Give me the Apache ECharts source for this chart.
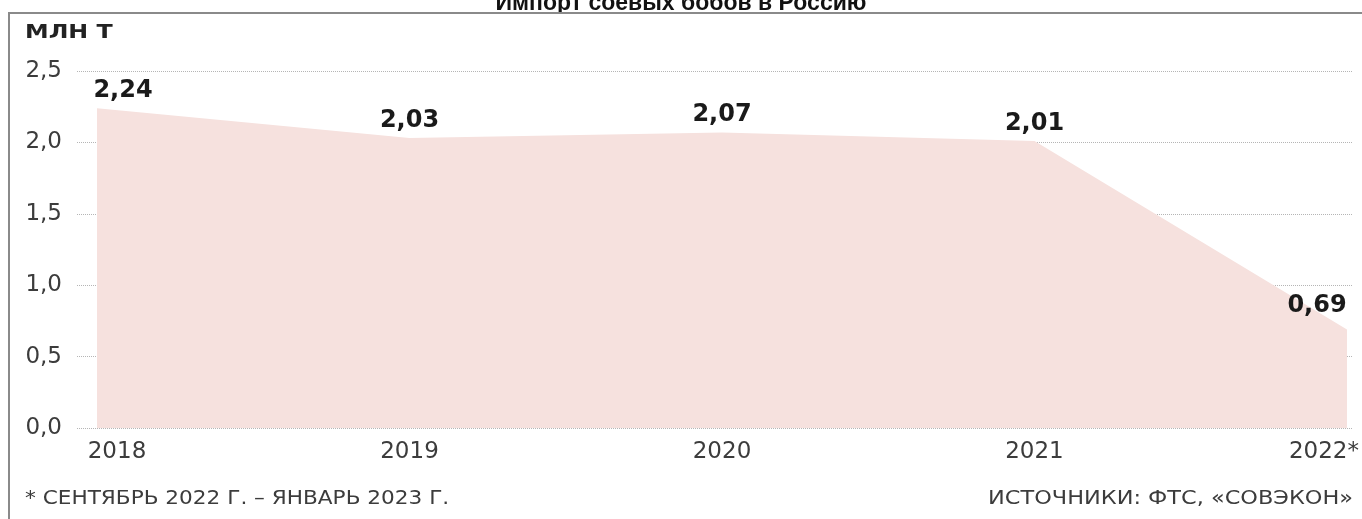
<!DOCTYPE html>
<html>
<head>
<meta charset="utf-8">
<title>Импорт соевых бобов в Россию</title>
<script src="https://cdn.jsdelivr.net/npm/echarts@6/dist/echarts.min.js"></script>
<style>
  html, body { margin: 0; padding: 0; background: #fff; }
  #chart { width: 1362px; height: 519px; }
</style>
</head>
<body>
<div id="chart"></div>
<script>
// данные: импорт соевых бобов, млн т
var years = ['2018', '2019', '2020', '2021', '2022*'];
var imports = [2.24, 2.03, 2.07, 2.01, 0.69];
var yTicks = [0, 0.5, 1, 1.5, 2, 2.5];

var chart = echarts.init(document.getElementById('chart'));

function comma(v) {
	return v.toFixed(1).replace('.', ',');
}

var labelFont = 'DejaVu Sans, Verdana, sans-serif';

var points = imports.map(function(v, i) {
	var item = { value: v };
	if (i === 0) item.label = { offset: [26, 0] };
	if (i === imports.length - 1) item.label = { offset: [-30, -6] };
	return item;
});

var option = {
	animation: false,
	title: {
		text: 'Импорт соевых бобов в Россию',
		left: 'center',
		top: -13,
		textStyle: { fontSize: 23, fontWeight: 'bold', color: '#111', fontFamily: 'Liberation Sans, Arial, sans-serif' }
	},
	graphic: [
		{ type: 'polyline', z: 10, shape: { points: [[9, 519], [9, 13], [1362, 13]] }, style: { stroke: '#8a8a8a', lineWidth: 2, fill: null } },
		{ type: 'rect', z: 9, shape: { x: 0, y: 14, width: 1362, height: 10 }, style: { fill: '#fff' } },
		{ type: 'text', x: 25, y: 24, scaleX: 1.25, style: { text: 'МЛН Т', fontSize: 19, fontWeight: 'bold', fill: '#222', fontFamily: labelFont } },
		{ type: 'text', x: 25, y: 489, scaleX: 1.08, style: { text: '* СЕНТЯБРЬ 2022 Г. – ЯНВАРЬ 2023 Г.', fontSize: 20, fill: '#3c3c3c', fontFamily: labelFont } },
		{ type: 'text', x: 1353, y: 489, scaleX: 1.12, style: { text: 'ИСТОЧНИКИ: ФТС, «СОВЭКОН»', fontSize: 20, fill: '#3c3c3c', fontFamily: labelFont, align: 'right' } }
	],
	grid: [
		{ left: 77, right: 10, top: 71, bottom: 91 },
		{ left: 97, right: 14, top: 71, bottom: 91 }
	],
	xAxis: [
		{ type: 'category', gridIndex: 0, data: years, show: false },
		{
			type: 'category', gridIndex: 1, data: years, boundaryGap: false,
			axisLine: { show: false }, axisTick: { show: false },
			axisLabel: {
				interval: 0, margin: 13, fontSize: 23, color: '#3c3c3c', fontFamily: labelFont,
				formatter: function(v, i) {
					if (i === 0) return '{first|' + v + '}';
					if (i === years.length - 1) return '{last|' + v + '}';
					return v;
				},
				rich: {
					first: { fontSize: 23, color: '#3c3c3c', fontFamily: labelFont, padding: [0, 0, 0, 40] },
					last: { fontSize: 23, color: '#3c3c3c', fontFamily: labelFont, padding: [0, 46, 0, 0] }
				}
			}
		}
	],
	yAxis: [
		{
			type: 'value', gridIndex: 0, min: yTicks[0], max: yTicks[yTicks.length - 1], interval: 0.5,
			axisLine: { show: false }, axisTick: { show: false },
			axisLabel: { margin: 15, fontSize: 23, color: '#3c3c3c', fontFamily: labelFont, formatter: comma },
			splitLine: { lineStyle: { type: 'dotted', color: '#b5b5b5', width: 1 } }
		},
		{
			type: 'value', gridIndex: 1, min: yTicks[0], max: yTicks[yTicks.length - 1], interval: 0.5,
			show: false, splitLine: { show: false }
		}
	],
	series: [{
		type: 'line',
		xAxisIndex: 1,
		yAxisIndex: 1,
		data: points,
		symbol: 'circle',
		symbolSize: 1,
		itemStyle: { color: 'rgba(0,0,0,0)' },
		lineStyle: { width: 0 },
		areaStyle: { color: '#f6e1de', opacity: 1 },
		label: {
			show: true,
			position: 'top',
			distance: 5,
			fontSize: 24,
			fontWeight: 'bold',
			color: '#1a1a1a',
			fontFamily: labelFont,
			formatter: function(p) { return p.value.toFixed(2).replace('.', ','); }
		}
	}]
};

chart.setOption(option);
window.onresize = function() {
	chart.resize();
};
</script>
</body>
</html>
